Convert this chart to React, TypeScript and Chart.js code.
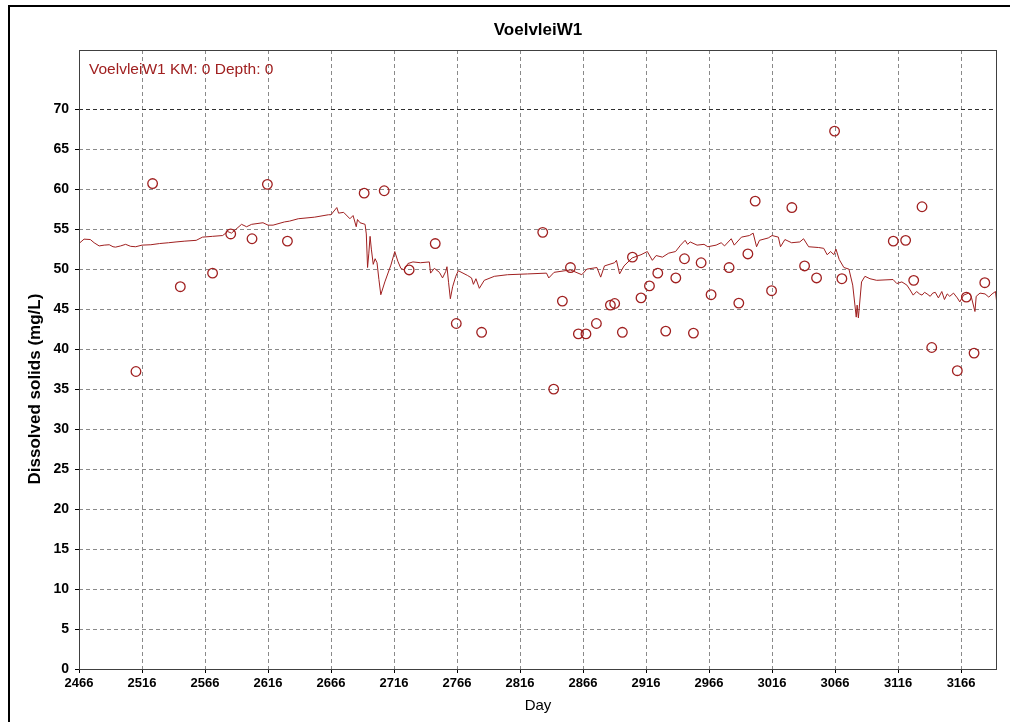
import React, { useEffect, useRef } from 'react';
import { Chart, registerables } from 'chart.js';

Chart.register(...registerables);

const chartTitle = 'VoelvleiW1';
const seriesLabel = 'VoelvleiW1 KM: 0 Depth: 0';
const xAxisTitle = 'Day';
const yAxisTitle = 'Dissolved solids (mg/L)';

const xMin = 2466;
const xMax = 3194.5;
const yMin = 0;
const yMax = 77.4;

const xTickValues = [2466, 2516, 2566, 2616, 2666, 2716, 2766, 2816, 2866, 2916, 2966, 3016, 3066, 3116, 3166];
const yTickValues = [0, 5, 10, 15, 20, 25, 30, 35, 40, 45, 50, 55, 60, 65, 70];

// simulated series (line)
const lineDays = [
  2466, 2470, 2475, 2478, 2482, 2486, 2490, 2493, 2495, 2499, 2503, 2507, 2511, 2516, 2523, 2530, 2537, 2543, 2550, 2559,
  2564, 2572, 2580, 2584, 2587, 2595, 2599, 2603, 2612, 2616, 2620, 2629, 2633, 2640, 2653, 2664, 2666, 2670.6, 2672, 2676,
  2681, 2683.5, 2686, 2687, 2689, 2693, 2694, 2695, 2696, 2697, 2698, 2699.5, 2701, 2702.5, 2704, 2705.5, 2708.7, 2713.5, 2716.6, 2719,
  2721.4, 2724, 2727, 2731, 2737, 2744, 2745, 2748, 2752, 2754.5, 2757, 2758, 2759.3, 2760.7, 2762.5, 2765, 2767, 2774.4, 2777.5, 2779,
  2781, 2783.7, 2787.6, 2795.6, 2806, 2822, 2837, 2838.8, 2843, 2856, 2865, 2869, 2877, 2880, 2883, 2891, 2892.5, 2895, 2898.5, 2905,
  2912, 2917, 2921, 2924, 2929, 2934, 2939.4, 2943.4, 2947, 2949, 2951, 2956.5, 2962, 2965, 2971.6, 2975.6, 2978.3, 2983.6, 2986, 2991.7,
  2998, 3001, 3003.7, 3006, 3013, 3016, 3021, 3022.7, 3026.2, 3031.5, 3038, 3041, 3045, 3053, 3057, 3059.7, 3062.5, 3065, 3066.7, 3069.3,
  3073, 3077, 3080, 3082.8, 3083.5, 3084.5, 3087, 3089.7, 3093.7, 3099, 3112, 3115, 3119, 3123, 3125.5, 3128, 3130.7, 3133, 3135, 3137,
  3139, 3141.5, 3143.5, 3145.5, 3148, 3150.7, 3152.8, 3155, 3157, 3160, 3163, 3165, 3168, 3172, 3174, 3177, 3178, 3181, 3185, 3188,
  3190.6, 3193.3, 3194.5,
];
const lineValues = [
  53.2, 53.75, 53.7, 53.3, 52.9, 53.0, 53.05, 52.8, 52.75, 52.9, 53.1, 52.85, 52.8, 53.0, 53.05, 53.2, 53.3, 53.4, 53.5, 53.6,
  54.0, 54.1, 54.2, 54.7, 54.5, 55.6, 55.3, 55.6, 55.8, 55.5, 55.5, 55.9, 56.0, 56.3, 56.5, 56.8, 56.8, 57.7, 57.0, 57.1,
  56.3, 56.7, 55.3, 56.2, 55.8, 55.6, 54.4, 50.2, 52.0, 54.1, 52.5, 50.6, 51.3, 50.8, 48.7, 46.8, 48.4, 50.5, 52.2, 51.0,
  50.1, 49.9, 50.7, 50.9, 50.8, 50.9, 49.5, 50.1, 49.6, 48.9, 49.7, 50.3, 48.3, 46.3, 47.8, 49.1, 49.8, 49.2, 48.9, 48.1,
  48.8, 47.6, 48.6, 49.1, 49.3, 49.4, 49.5, 48.9, 49.6, 49.9, 49.3, 50.0, 50.2, 49.0, 50.4, 50.8, 51.1, 49.4, 50.4, 51.4,
  51.8, 52.2, 51.1, 51.7, 51.5, 52.0, 52.2, 53.0, 53.6, 53.1, 53.4, 53.0, 53.1, 52.8, 53.0, 53.3, 52.9, 53.8, 53.0, 54.0,
  54.2, 54.5, 52.8, 53.6, 53.9, 54.2, 54.0, 52.8, 53.7, 53.3, 53.4, 53.8, 52.8, 52.7, 52.6, 51.8, 52.2, 51.8, 52.5, 51.2,
  50.2, 50.0, 48.0, 44.0, 45.5, 43.9, 48.4, 49.1, 48.8, 48.6, 48.7, 48.2, 48.4, 48.0, 47.4, 46.75, 47.2, 46.9, 46.75, 47.1,
  46.9, 46.6, 47.0, 47.1, 46.4, 47.2, 46.2, 46.9, 46.6, 47.0, 46.4, 45.9, 46.75, 47.0, 46.6, 44.7, 46.6, 47.0, 46.9, 46.5,
  46.9, 47.2, 45.5,
];

// observed samples (circles)
const obsDays = [
  2511.2, 2524.4, 2546.4, 2572, 2586.4, 2603.3, 2615.5, 2631.4, 2692.3, 2708.2, 2728, 2748.7, 2765.4, 2785.5, 2834, 2842.7,
  2849.6, 2856, 2862.3, 2868.3, 2876.6, 2887.7, 2891.1, 2897.2, 2905.2, 2912, 2918.7, 2925.3, 2931.6, 2939.6, 2946.5, 2953.6,
  2959.7, 2967.6, 2981.9, 2989.6, 2996.8, 3002.6, 3015.6, 3031.7, 3041.8, 3051.3, 3065.6, 3071.4, 3112.2, 3122, 3128.4, 3135,
  3142.7, 3163, 3170.2, 3176.3, 3184.8,
];
const obsValues = [
  37.2, 60.7, 47.8, 49.5, 54.4, 53.8, 60.6, 53.5, 59.5, 59.8, 49.9, 53.2, 43.2, 42.1, 54.6, 35.0,
  46.0, 50.2, 41.9, 41.9, 43.2, 45.5, 45.7, 42.1, 51.5, 46.4, 47.9, 49.5, 42.25, 48.9, 51.3, 42.0,
  50.8, 46.8, 50.2, 45.75, 51.9, 58.5, 47.3, 57.7, 50.4, 48.9, 67.25, 48.8, 53.5, 53.6, 48.6, 57.8,
  40.2, 37.3, 46.5, 39.5, 48.3,
];

const RED = '#a02020';

const decorPlugin = {
  id: 'decor',
  beforeDraw(chart: any) {
    const { ctx, width, height } = chart;
    ctx.save();
    ctx.fillStyle = '#ffffff';
    ctx.fillRect(0, 0, width, height);
    ctx.fillStyle = '#000000';
    ctx.fillRect(8, 5, width - 8, 2);
    ctx.fillRect(8, 5, 2, height - 5);
    ctx.restore();
  },
  afterDraw(chart: any) {
    const { ctx, chartArea: a } = chart;
    const ys = chart.scales.y;
    ctx.save();
    ctx.strokeStyle = '#404040';
    ctx.lineWidth = 1;
    ctx.setLineDash([]);
    ctx.strokeRect(a.left + 0.5, a.top + 0.5, a.right - a.left - 1, a.bottom - a.top);

    ctx.fillStyle = '#000';
    ctx.font = 'bold 17px Arial, "Liberation Sans", sans-serif';
    ctx.textAlign = 'center';
    ctx.textBaseline = 'middle';
    ctx.fillText(chartTitle, (a.left + a.right) / 2, 30);

    ctx.fillStyle = RED;
    ctx.font = '15.5px Arial, "Liberation Sans", sans-serif';
    ctx.textAlign = 'left';
    ctx.textBaseline = 'middle';
    ctx.fillText(seriesLabel, a.left + 10, 70);

    ctx.fillStyle = '#000';
    ctx.font = '15px Arial, "Liberation Sans", sans-serif';
    ctx.textAlign = 'center';
    ctx.textBaseline = 'middle';
    ctx.fillText(xAxisTitle, (a.left + a.right) / 2, 706);

    ctx.translate(35, ys.getPixelForValue(35));
    ctx.rotate(-Math.PI / 2);
    ctx.font = 'bold 17px Arial, "Liberation Sans", sans-serif';
    ctx.fillText(yAxisTitle, 0, 0);
    ctx.restore();
  },
};

export default function App() {
  const ref = useRef<HTMLCanvasElement | null>(null);

  useEffect(() => {
    if (!ref.current) return;
    const lineData = lineDays.map((d, i) => ({ x: d, y: lineValues[i] }));
    const obsData = obsDays.map((d, i) => ({ x: d, y: obsValues[i] }));
    const gridColor = (c: any) => {
      const v = c.tick ? c.tick.value : null;
      return v === 0 || v === 70 ? '#303030' : '#8a8a8a';
    };
    const chart = new Chart(ref.current, {
      type: 'scatter',
      data: {
        datasets: [
          {
            label: seriesLabel,
            data: lineData,
            showLine: true,
            borderColor: RED,
            borderWidth: 1,
            pointRadius: 0,
            tension: 0,
            order: 2,
          },
          {
            label: 'observed',
            data: obsData,
            showLine: false,
            borderColor: RED,
            backgroundColor: 'rgba(0,0,0,0)',
            borderWidth: 1.3,
            pointRadius: 4.8,
            pointStyle: 'circle',
            order: 1,
          },
        ],
      },
      plugins: [decorPlugin],
      options: {
        animation: false,
        responsive: false,
        devicePixelRatio: 1,
        layout: { padding: { left: 0, top: 50, right: 13, bottom: 0 } },
        plugins: {
          legend: { display: false },
          title: { display: false },
          tooltip: { enabled: false },
        },
        scales: {
          x: {
            type: 'linear',
            position: 'bottom',
            min: xMin,
            max: xMax,
            afterBuildTicks: (s: any) => {
              s.ticks = xTickValues.map((v) => ({ value: v }));
            },
            afterFit: (s: any) => {
              s.height = 53;
            },
            ticks: {
              autoSkip: false,
              maxRotation: 0,
              padding: 3,
              color: '#000',
              font: { family: 'Arial, "Liberation Sans", sans-serif', size: 13, weight: 'bold' },
              callback: (v: any) => String(v),
            },
            grid: {
              color: gridColor,
              lineWidth: 1,
              drawTicks: true,
              tickLength: 4,
              tickColor: '#000',
              tickBorderDash: [],
            },
            border: { display: false, dash: [4, 3] },
          },
          y: {
            type: 'linear',
            min: yMin,
            max: yMax,
            afterBuildTicks: (s: any) => {
              s.ticks = yTickValues.map((v) => ({ value: v }));
            },
            afterFit: (s: any) => {
              s.width = 79;
            },
            ticks: {
              autoSkip: false,
              padding: 6,
              color: '#000',
              font: { family: 'Arial, "Liberation Sans", sans-serif', size: 14, weight: 'bold' },
              callback: (v: any) => String(v),
            },
            grid: {
              color: gridColor,
              lineWidth: 1,
              drawTicks: true,
              tickLength: 4,
              tickColor: '#000',
              tickBorderDash: [],
            },
            border: { display: false, dash: [4, 3] },
          },
        },
      },
    } as any);
    return () => chart.destroy();
  }, []);

  return (
    <div style={{ position: 'fixed', left: 0, top: 0, width: 1010, height: 722, background: '#fff' }}>
      <canvas ref={ref} width={1010} height={722} style={{ display: 'block' }} />
    </div>
  );
}
